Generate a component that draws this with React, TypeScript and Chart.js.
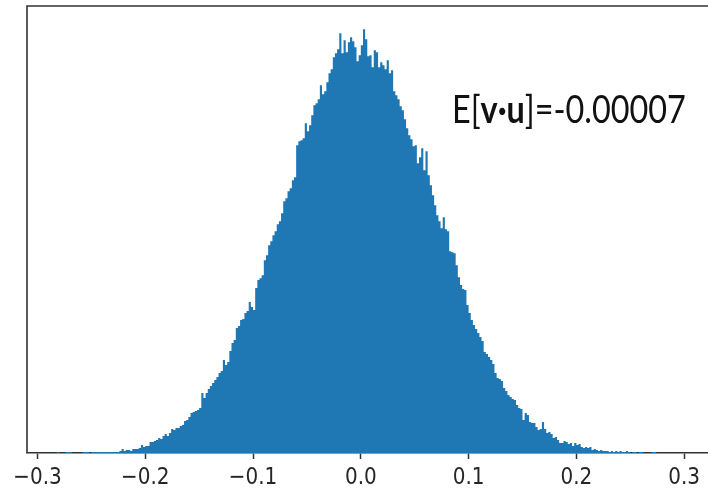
import { useEffect, useRef } from "react";
import { Chart, registerables } from "chart.js";

Chart.register(...registerables);

// Histogram bins: left edge of the first bin and the common bin width
const binStart = -0.284;
const binWidth = 0.002;

// Counts per bin, split into sections from left to right
const leftTail = [
  0, 1, 0, 0, 0, 1, 1, 1, 0, 0,
  0, 0, 0, 1, 1, 1, 0, 1, 1, 1,
  1, 1, 1, 1, 1, 1, 1, 1, 1, 1,
  2, 4, 2, 3, 3, 2, 4, 4, 4, 5,
  8, 6, 7, 7, 11, 11, 12, 13, 15, 14,
];
const leftFlank = [
  17, 19, 17, 20, 24, 23, 25, 25, 27, 28,
  32, 33, 36, 40, 41, 42, 43, 45, 60, 55,
  60, 64, 67, 70, 73, 76, 80, 82, 93, 88,
  91, 102, 110, 113, 125, 127, 133, 134, 140, 142,
  151, 146, 143, 165, 173, 175, 178, 193, 198, 208,
  212, 218, 222, 229, 232, 240, 252, 255, 262, 265,
];
const peak = [
  273, 276, 308, 312, 313, 315, 330, 322, 328, 338,
  348, 350, 354, 368, 359, 362, 371, 380, 384, 396,
  400, 404, 420, 400, 413, 401, 411, 416, 412, 406,
  392, 398, 408, 424, 414, 397, 398, 386, 403, 401,
  386, 391, 388, 384, 393, 380, 383, 362, 358, 354,
  347, 343, 334, 325, 318, 314, 307, 308, 290, 296,
];
const rightFlank = [
  305, 283, 302, 278, 268, 258, 248, 238, 232, 225,
  236, 224, 222, 202, 201, 200, 188, 176, 168, 164,
  163, 148, 140, 133, 128, 124, 120, 116, 112, 101,
  99, 96, 93, 89, 80, 75, 74, 72, 65, 62,
  58, 56, 54, 53, 48, 45, 44, 33, 40, 38,
  31, 30, 30, 26, 23, 24, 31, 24, 20, 21,
];
const rightTail = [
  19, 15, 16, 13, 10, 10, 12, 11, 9, 10,
  7, 10, 8, 9, 6, 5, 6, 5, 6, 3,
  4, 3, 2, 3, 2, 2, 2, 1, 2, 1,
  2, 1, 2, 1, 1, 2, 1, 0, 1, 1,
  0, 1, 1, 0, 0, 0, 0, 1, 1, 0,
];

const binCounts = [...leftTail, ...leftFlank, ...peak, ...rightFlank, ...rightTail];

// Axis ticks and visible range
const tickValues = [-0.3, -0.2, -0.1, 0, 0.1, 0.2, 0.3];
const xMin = -0.3097;
const xMax = 0.3221;

// Mean annotation, with the vector product in bold
const annotationParts = [
  { text: "E[", bold: false },
  { text: "v\u00b7u", bold: true },
  { text: "]=-0.00007", bold: false },
];

const BAR_COLOR = "#1f77b4";
const SPINE_COLOR = "#333333";
const LABEL_COLOR = "#262626";

// Step outline: each bin holds its count from its left edge to the next edge
const stepPoints = [
  ...binCounts.map((c, i) => ({ x: binStart + i * binWidth, y: c })),
  { x: binStart + binCounts.length * binWidth, y: 0 },
];

const formatTick = (v: number) => {
  const r = Math.round(v * 10) / 10;
  return (r < 0 ? "\u2212" : "") + Math.abs(r).toFixed(1);
};

// Top and left spines (the bottom one is the x axis border)
const framePlugin = {
  id: "frame",
  afterDraw(chart: any) {
    const { ctx, chartArea: a } = chart;
    ctx.save();
    ctx.strokeStyle = SPINE_COLOR;
    ctx.lineWidth = 1.6;
    ctx.beginPath();
    ctx.moveTo(a.left, a.bottom);
    ctx.lineTo(a.left, a.top);
    ctx.lineTo(a.right + 2, a.top);
    ctx.stroke();
    ctx.restore();
  },
};

// Tick labels under the x axis, drawn slightly tall
const tickLabelPlugin = {
  id: "tickLabels",
  afterDraw(chart: any) {
    const { ctx } = chart;
    const scale = chart.scales.x;
    const baseline = 484;
    ctx.save();
    ctx.fillStyle = LABEL_COLOR;
    ctx.font = "20px 'DejaVu Sans'";
    ctx.textAlign = "center";
    ctx.textBaseline = "alphabetic";
    tickValues.forEach((v) => {
      const px = scale.getPixelForValue(v);
      ctx.save();
      ctx.translate(px, baseline);
      ctx.scale(1, 1.18);
      ctx.fillText(formatTick(v), 0, 0);
      ctx.restore();
    });
    ctx.restore();
  },
};

const annotationPlugin = {
  id: "meanLabel",
  afterDraw(chart: any) {
    const { ctx } = chart;
    const family = "Lato, 'Open Sans', sans-serif";
    const left = 452;
    const baseline = 123;
    const targetWidth = 234;
    const capHeight = 28;
    const fontFor = (bold: boolean, size: number) => `${bold ? "bold " : ""}${size}px ${family}`;
    ctx.save();
    let total = 0;
    annotationParts.forEach((p) => {
      ctx.font = fontFor(p.bold, 40);
      total += ctx.measureText(p.text).width;
    });
    const size = (40 * targetWidth) / total;
    const sy = capHeight / (0.7165 * size);
    ctx.translate(left, baseline);
    ctx.scale(1, sy);
    ctx.fillStyle = "#111111";
    ctx.textBaseline = "alphabetic";
    let x = 0;
    annotationParts.forEach((p) => {
      ctx.font = fontFor(p.bold, size);
      ctx.fillText(p.text, x, 0);
      x += ctx.measureText(p.text).width;
    });
    ctx.restore();
  },
};

export default function App() {
  const canvasRef = useRef<HTMLCanvasElement | null>(null);

  useEffect(() => {
    if (!canvasRef.current) return;
    const yMax = Math.max(...binCounts) * 1.055;
    const chart = new Chart(canvasRef.current, {
      type: "line",
      data: {
        datasets: [
          {
            data: stepPoints,
            stepped: "before",
            fill: "origin",
            backgroundColor: BAR_COLOR,
            borderColor: BAR_COLOR,
            borderWidth: 0,
            pointRadius: 0,
          },
        ],
      },
      options: {
        responsive: false,
        animation: false,
        events: [],
        layout: { padding: { left: 27, top: 6, right: 0, bottom: 36 } },
        plugins: {
          legend: { display: false },
          tooltip: { enabled: false },
        },
        scales: {
          x: {
            type: "linear",
            min: xMin,
            max: xMax,
            afterBuildTicks: (scale: any) => {
              scale.ticks = tickValues.map((v) => ({ value: v }));
            },
            border: { display: true, color: SPINE_COLOR, width: 1.6 },
            grid: {
              display: true,
              drawOnChartArea: false,
              drawTicks: true,
              tickLength: 6,
              tickColor: SPINE_COLOR,
              tickWidth: 1.5,
            },
            ticks: { display: false, autoSkip: false },
          },
          y: {
            display: false,
            min: 0,
            max: yMax,
          },
        },
      },
      plugins: [framePlugin, tickLabelPlugin, annotationPlugin],
    });
    return () => chart.destroy();
  }, []);

  return (
    <div style={{ position: "fixed", left: 0, top: 0, width: 708, height: 495, background: "#ffffff" }}>
      <canvas ref={canvasRef} width={708} height={495} />
    </div>
  );
}
